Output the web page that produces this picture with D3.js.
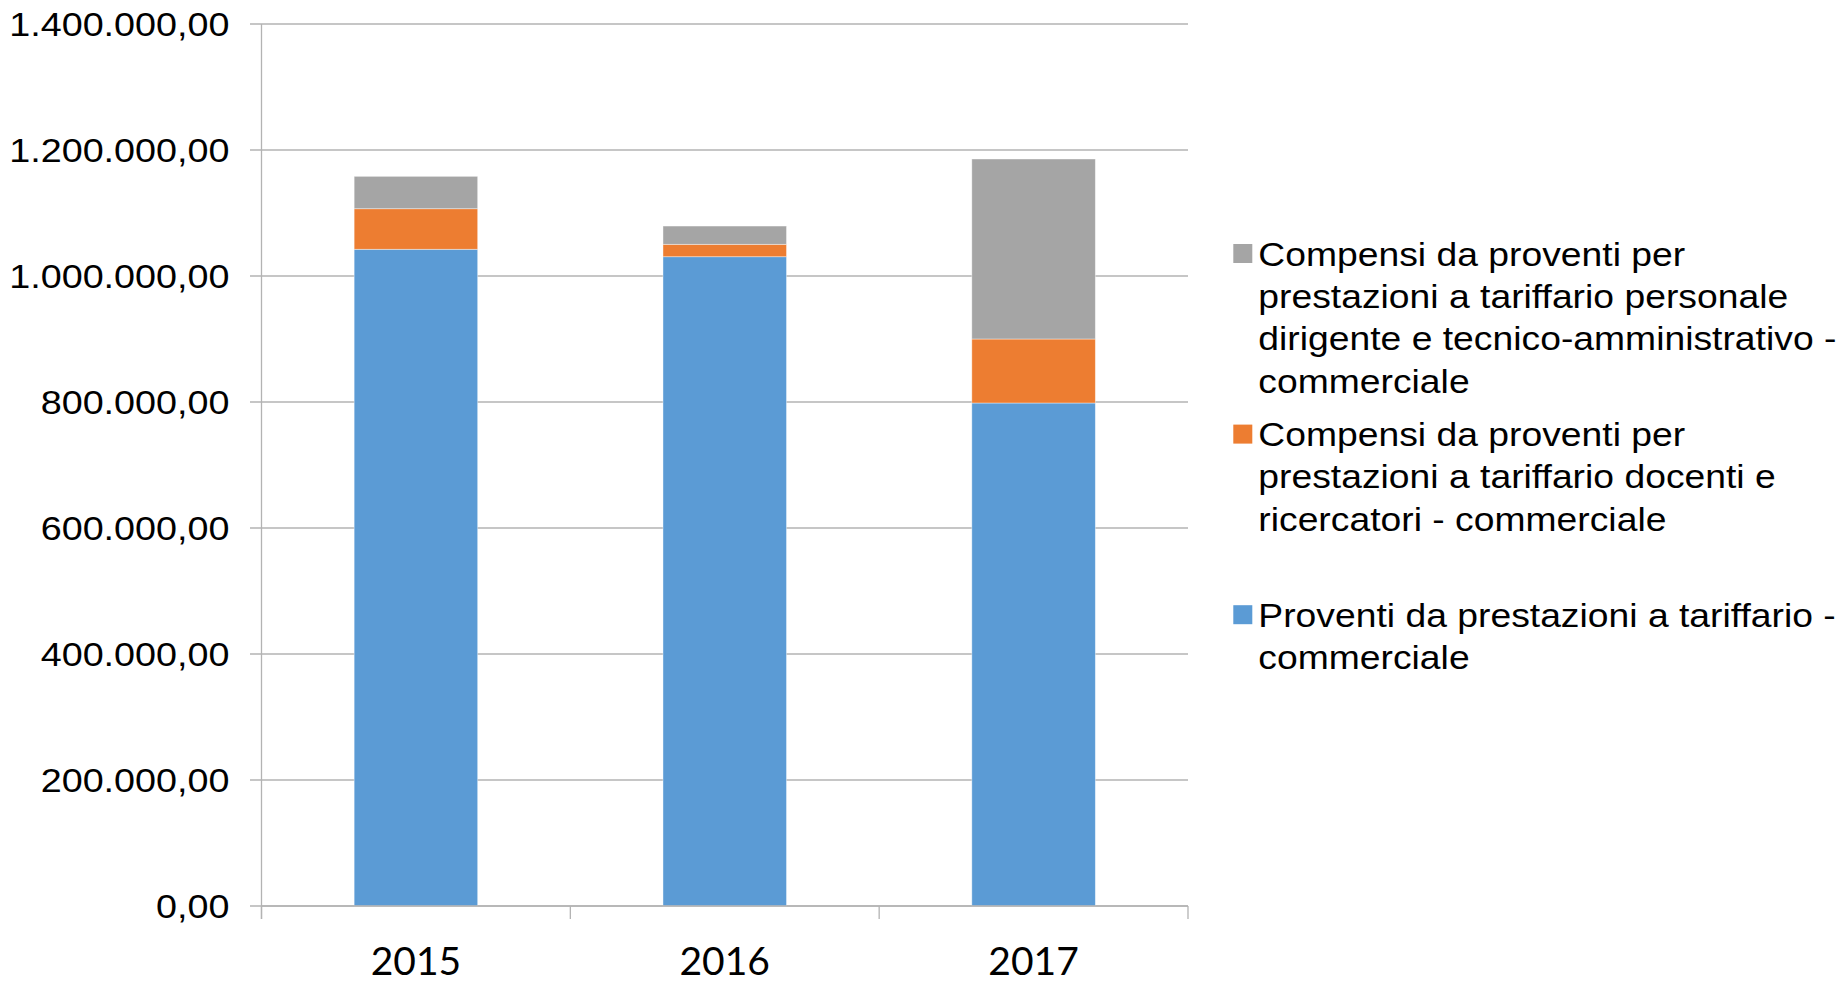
<!DOCTYPE html>
<html>
<head>
<meta charset="utf-8">
<script src="https://cdn.jsdelivr.net/npm/d3@7"></script>
<style>
  body { margin: 0; background: #fff; }
  text { fill: #000; }
</style>
</head>
<body>
<div id="vis"></div>
<script>
const years = ['2015', '2016', '2017'];
const proventi = [1042400, 1030600, 798400];
const compensiDocenti = [64400, 19700, 101600];
const compensiPersonale = [51400, 29000, 285700];
const yTicks = [0, 200000, 400000, 600000, 800000, 1000000, 1200000, 1400000];

const seriesKeys = ['proventi', 'docenti', 'personale'];
const seriesLabels = {
  personale: ['Compensi da proventi per', 'prestazioni a tariffario personale', 'dirigente e tecnico-amministrativo -', 'commerciale'],
  docenti: ['Compensi da proventi per', 'prestazioni a tariffario docenti e', 'ricercatori - commerciale'],
  proventi: ['Proventi da prestazioni a tariffario -', 'commerciale']
};
const legendOrder = ['personale', 'docenti', 'proventi'];

const rows = years.map((y, i) => ({
  year: y,
  proventi: proventi[i],
  docenti: compensiDocenti[i],
  personale: compensiPersonale[i]
}));

const width = 1845;
const height = 981;
const margin = { top: 24, left: 261.5, right: 657, bottom: 75 };
const innerW = width - margin.left - margin.right;
const innerH = height - margin.top - margin.bottom;

const color = d3.scaleOrdinal()
  .domain(seriesKeys)
  .range(['#5b9bd5', '#ed7d31', '#a5a5a5']);

const itFormat = d3.formatLocale({ decimal: ',', thousands: '.', grouping: [3], currency: ['€', ''] }).format(',.2f');

const svg = d3.select('#vis').append('svg')
  .attr('width', width)
  .attr('height', height);

const g = svg.append('g').attr('transform', `translate(${margin.left},${margin.top})`);

const x = d3.scaleBand()
  .domain(years)
  .range([0, innerW])
  .paddingInner(0.6)
  .paddingOuter(0.3);

const y = d3.scaleLinear()
  .domain([0, 1400000])
  .range([innerH, 0]);

const gridColor = '#b3b3b3';

// gridlines + y labels
const yTick = g.selectAll('.ytick')
  .data(yTicks)
  .enter().append('g')
  .attr('class', 'ytick')
  .attr('transform', d => `translate(0,${y(d)})`);

yTick.append('line')
  .attr('x1', -11.5)
  .attr('x2', innerW)
  .attr('stroke', gridColor)
  .attr('stroke-width', 1.3);

yTick.append('text')
  .attr('transform', 'translate(-32,0) scale(1.11,1)')
  .attr('text-anchor', 'end')
  .attr('dy', '0.35em')
  .style('font-family', '"Liberation Sans", Arial, sans-serif')
  .style('font-size', '34px')
  .text(d => itFormat(d));

// stacked bars
const stacked = d3.stack().keys(seriesKeys)(rows);

g.selectAll('.series')
  .data(stacked)
  .enter().append('g')
  .attr('class', 'series')
  .attr('fill', d => color(d.key))
  .selectAll('rect')
  .data(d => d)
  .enter().append('rect')
  .attr('x', d => x(d.data.year))
  .attr('width', x.bandwidth())
  .attr('y', d => y(d[1]))
  .attr('height', d => y(d[0]) - y(d[1]))
  .attr('stroke', '#ffffff')
  .attr('stroke-opacity', 0.5)
  .attr('stroke-width', 0.8);

// axis lines
g.append('line')
  .attr('x1', 0).attr('x2', 0)
  .attr('y1', 0).attr('y2', innerH + 13)
  .attr('stroke', gridColor)
  .attr('stroke-width', 1.3);

g.append('line')
  .attr('x1', 0).attr('x2', innerW)
  .attr('y1', innerH).attr('y2', innerH)
  .attr('stroke', gridColor)
  .attr('stroke-width', 1.3);

const boundaries = d3.range(years.length + 1).map(i => i * x.step());
g.selectAll('.xtick')
  .data(boundaries)
  .enter().append('line')
  .attr('x1', d => d).attr('x2', d => d)
  .attr('y1', innerH).attr('y2', innerH + 13)
  .attr('stroke', gridColor)
  .attr('stroke-width', 1.3);

g.selectAll('.xlabel')
  .data(years)
  .enter().append('text')
  .attr('x', d => x(d) + x.bandwidth() / 2)
  .attr('y', innerH + 68.5)
  .attr('text-anchor', 'middle')
  .style('font-family', 'Lato, "Open Sans", sans-serif')
  .style('font-size', '39px')
  .text(d => d);

// legend
const lineH = 42.4;
const legend = svg.append('g').attr('transform', 'translate(1233.3,265.5)');

const entries = legend.selectAll('.entry')
  .data(legendOrder)
  .enter().append('g')
  .attr('class', 'entry')
  .attr('transform', (d, i) => `translate(0,${i * 180.6})`);

entries.append('rect')
  .attr('x', 0)
  .attr('y', -21.5)
  .attr('width', 19)
  .attr('height', 19)
  .attr('fill', d => color(d));

entries.append('text')
  .attr('transform', 'translate(25,0) scale(1.13,1)')
  .style('font-family', '"Liberation Sans", Arial, sans-serif')
  .style('font-size', '33px')
  .selectAll('tspan')
  .data(d => seriesLabels[d])
  .enter().append('tspan')
  .attr('x', 0)
  .attr('y', (d, i) => i * lineH)
  .text(d => d);
</script>
</body>
</html>
